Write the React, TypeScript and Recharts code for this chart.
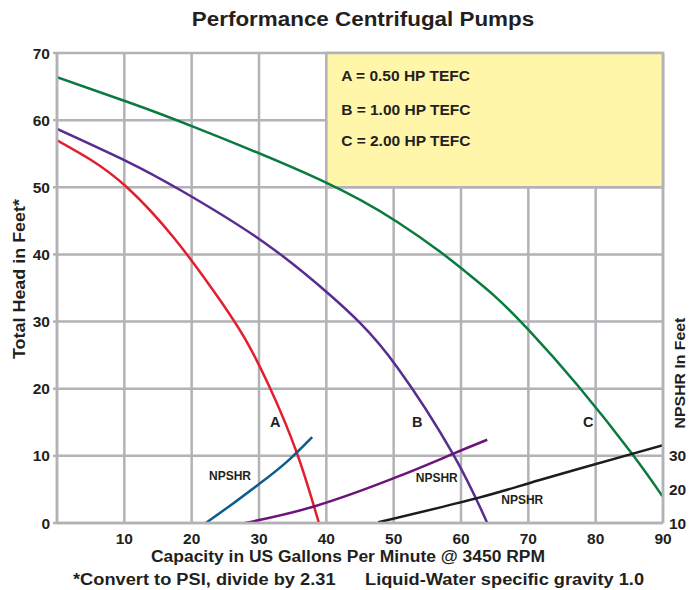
import {
  LineChart,
  Line,
  XAxis,
  YAxis,
  CartesianGrid,
  ReferenceArea,
  ReferenceDot,
} from 'recharts';

// head curves, GPM vs total head (ft)
const curveA = [
  { q: 0, h: 57 }, { q: 5, h: 54.1 }, { q: 10.5, h: 49.9 }, { q: 17.5, h: 42.3 },
  { q: 24.2, h: 33.2 }, { q: 28, h: 27.3 }, { q: 31.5, h: 20.4 }, { q: 35.6, h: 10.5 },
  { q: 38.9, h: 0 },
];
const curveB = [
  { q: 0, h: 58.7 }, { q: 10.5, h: 53.8 }, { q: 18.3, h: 49.6 }, { q: 30.6, h: 41.9 },
  { q: 40.5, h: 34 }, { q: 45, h: 29.8 }, { q: 50.6, h: 23.1 }, { q: 58.8, h: 10.3 },
  { q: 63.9, h: 0 },
];
const curveC = [
  { q: 0, h: 66.4 }, { q: 10.5, h: 62.7 }, { q: 20.3, h: 59 }, { q: 39.1, h: 51.1 },
  { q: 50.6, h: 44.8 }, { q: 56.9, h: 40.4 }, { q: 60.7, h: 37.4 }, { q: 65, h: 33.8 },
  { q: 70, h: 28.8 }, { q: 77.4, h: 20.4 }, { q: 85.4, h: 10.3 }, { q: 89.9, h: 4 },
];

// NPSHR curves, GPM vs NPSHR (ft, right axis)
const npshrA = [
  { q: 22.1, n: 10 }, { q: 26, n: 15.6 }, { q: 30, n: 21.6 },
  { q: 34, n: 28 }, { q: 37.9, n: 35.6 },
];
const npshrB = [
  { q: 27.9, n: 10 }, { q: 38.3, n: 15 }, { q: 50.6, n: 23.8 },
  { q: 58.8, n: 30.6 }, { q: 63.9, n: 34.8 },
];
const npshrC = [
  { q: 47.7, n: 10.2 }, { q: 62.4, n: 17.4 }, { q: 71.7, n: 22.8 },
  { q: 85.4, n: 30.6 }, { q: 90, n: 33.2 },
];

const xTicks = [10, 20, 30, 40, 50, 60, 70, 80, 90];
const headTicks = [0, 10, 20, 30, 40, 50, 60, 70];
const npshrTicks = [10, 20, 30];

const legendLines = [
  { text: 'A = 0.50 HP TEFC', h: 66.6 },
  { text: 'B = 1.00 HP TEFC', h: 61.6 },
  { text: 'C = 2.00 HP TEFC', h: 56.9 },
];
const curveTags = [
  { text: 'A', q: 32.4, h: 15 },
  { text: 'B', q: 53.5, h: 15 },
  { text: 'C', q: 78.9, h: 15 },
];
const npshrTags = [
  { q: 25.7, h: 7 },
  { q: 56.4, h: 6.7 },
  { q: 69.1, h: 3.4 },
];

const GRID = '#b2b2b7';
const INK = '#231f20';
const FONT = '"Liberation Sans", Arial, sans-serif';

const tickStyle = { fill: INK, fontSize: 15.5, fontWeight: 700 };

function textAt(text: string, size: number, anchor: 'start' | 'middle') {
  return (props: any) => {
    const vb = props.viewBox || {};
    return (
      <text
        x={vb.x}
        y={vb.y}
        textAnchor={anchor}
        dominantBaseline="central"
        fill={INK}
        fontSize={size}
        fontWeight={700}
      >
        {text}
      </text>
    );
  };
}

const caption = (extra: React.CSSProperties): React.CSSProperties => ({
  position: 'absolute',
  whiteSpace: 'nowrap',
  fontWeight: 700,
  lineHeight: 1,
  ...extra,
});

export default function App() {
  return (
    <div
      style={{
        position: 'absolute',
        left: 0,
        top: 0,
        width: 697,
        height: 590,
        fontFamily: FONT,
        color: INK,
        background: '#fff',
      }}
    >
      <div
        style={caption({
          left: 363,
          top: 19,
          fontSize: 20,
          transform: 'translate(-50%, -50%) scaleX(1.12)',
        })}
      >
        Performance Centrifugal Pumps
      </div>
      <LineChart
        width={697}
        height={590}
        margin={{ top: 53, right: 4, bottom: 37, left: 12 }}
      >
        <CartesianGrid stroke={GRID} strokeWidth={2.5} />
        <XAxis
          type="number"
          dataKey="q"
          domain={[0, 90]}
          ticks={xTicks}
          allowDataOverflow
          height={30}
          stroke={GRID}
          strokeWidth={2.5}
          tickLine={false}
          tickMargin={4}
          tick={tickStyle}
        />
        <YAxis
          type="number"
          domain={[0, 70]}
          ticks={headTicks}
          width={45}
          stroke={GRID}
          strokeWidth={2.5}
          tickSize={4}
          tickMargin={3}
          tick={tickStyle}
        />
        <YAxis
          yAxisId="right"
          orientation="right"
          type="number"
          domain={[10, 150]}
          ticks={npshrTicks}
          width={30}
          stroke={GRID}
          strokeWidth={2.5}
          tickLine={false}
          tickSize={4}
          tickMargin={2}
          tick={tickStyle}
        />
        <ReferenceArea
          x1={40}
          x2={90}
          y1={50}
          y2={70}
          fill="#fff6a9"
          fillOpacity={1}
          stroke={GRID}
          strokeWidth={2.5}
        />
        {legendLines.map((l) => (
          <ReferenceDot
            key={l.text}
            x={42.2}
            y={l.h}
            r={0}
            fill="none"
            stroke="none"
            label={textAt(l.text, 15.5, 'start')}
          />
        ))}
        <Line data={curveA} dataKey="h" type="natural" stroke="#e21f2d" strokeWidth={2.5} dot={false} isAnimationActive={false} />
        <Line data={curveB} dataKey="h" type="natural" stroke="#572d8f" strokeWidth={2.5} dot={false} isAnimationActive={false} />
        <Line data={curveC} dataKey="h" type="natural" stroke="#0b7a3e" strokeWidth={2.5} dot={false} isAnimationActive={false} />
        <Line data={npshrA} dataKey="n" yAxisId="right" type="natural" stroke="#0b5d8e" strokeWidth={2.5} dot={false} isAnimationActive={false} />
        <Line data={npshrB} dataKey="n" yAxisId="right" type="natural" stroke="#6b1579" strokeWidth={2.5} dot={false} isAnimationActive={false} />
        <Line data={npshrC} dataKey="n" yAxisId="right" type="natural" stroke="#1c1c1c" strokeWidth={2.5} dot={false} isAnimationActive={false} />
        {curveTags.map((t) => (
          <ReferenceDot
            key={t.text}
            x={t.q}
            y={t.h}
            r={0}
            fill="none"
            stroke="none"
            label={textAt(t.text, 14.5, 'middle')}
          />
        ))}
        {npshrTags.map((t) => (
          <ReferenceDot
            key={t.q}
            x={t.q}
            y={t.h}
            r={0}
            fill="none"
            stroke="none"
            label={textAt('NPSHR', 12, 'middle')}
          />
        ))}
      </LineChart>
      <div
        style={caption({
          left: 20,
          top: 279,
          fontSize: 16,
          transform: 'translate(-50%, -50%) rotate(-90deg) scaleX(1.12)',
        })}
      >
        Total Head in Feet*
      </div>
      <div
        style={caption({
          left: 680,
          top: 373,
          fontSize: 14,
          transform: 'translate(-50%, -50%) rotate(-90deg) scaleX(1.13)',
        })}
      >
        NPSHR In Feet
      </div>
      <div
        style={caption({
          left: 348,
          top: 557,
          fontSize: 16,
          transform: 'translate(-50%, -50%) scaleX(1.09)',
        })}
      >
        Capacity in US Gallons Per Minute @ 3450 RPM
      </div>
      <div
        style={caption({
          left: 73,
          top: 580,
          fontSize: 16,
          transformOrigin: 'left center',
          transform: 'translateY(-50%) scaleX(1.14)',
        })}
      >
        *Convert to PSI, divide by 2.31
      </div>
      <div
        style={caption({
          left: 365,
          top: 580,
          fontSize: 16,
          transformOrigin: 'left center',
          transform: 'translateY(-50%) scaleX(1.14)',
        })}
      >
        Liquid-Water specific gravity 1.0
      </div>
    </div>
  );
}
